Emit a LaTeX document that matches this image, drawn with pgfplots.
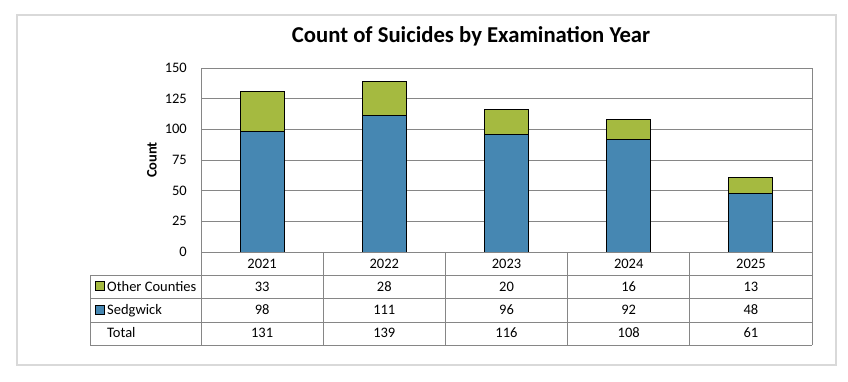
\documentclass[border=0pt]{standalone}
\usepackage{pgfplots}
\pgfplotsset{compat=1.18}
\usepackage{pgfplotstable}
\usepackage{fontspec}
\setmainfont{Carlito}
\definecolor{cgreen}{RGB}{165,186,64}
\definecolor{cblue}{RGB}{70,135,178}
\definecolor{gridc}{RGB}{134,134,134}
\definecolor{framec}{RGB}{217,217,217}
\definecolor{tabc}{RGB}{134,134,134}
\pgfplotstableread{
year sedgwick other total
2021 98 33 131
2022 111 28 139
2023 96 20 116
2024 92 16 108
2025 48 13 61
}\data
\begin{document}
\begin{tikzpicture}[x=1pt,y=1pt]
\path (0,0) rectangle (848,381);
\draw[framec, line width=1.2pt] (17,16) rectangle (836,366);
\node[font=\fontsize{22.7}{26}\selectfont\bfseries, anchor=base, inner sep=0pt] at (471,338) {Count of Suicides by Examination Year};
\node[font=\fontsize{14.5}{16}\selectfont\bfseries, rotate=90, inner sep=0pt] at (152,221) {Count};
\begin{axis}[at={(201pt,129pt)}, anchor=south west, scale only axis,
  width=611pt, height=184pt, xmin=-0.5, xmax=4.5, ymin=0, ymax=150,
  ytick={0,25,...,150}, xtick=\empty, ybar stacked, bar width=44pt,
  axis line style={gridc, line width=1pt}, ymajorgrids,
  grid style={gridc, line width=1pt}, major tick length=0pt,
  yticklabel style={font=\fontsize{14.5}{16}\selectfont, anchor=east, inner sep=0pt, xshift=-14pt},
  /pgf/number format/assume math mode=true, clip=false]
\addplot[fill=cblue, draw=black, line width=1pt] table[x expr=\coordindex, y=sedgwick]{\data};
\addplot[fill=cgreen, draw=black, line width=1pt] table[x expr=\coordindex, y=other]{\data};
\end{axis}
% data table
\begin{scope}[tabc, line width=1pt]
\draw (201,129) -- (812,129);
\draw (90,106) -- (812,106);
\draw (90,83) -- (812,83);
\draw (90,59) -- (812,59);
\draw (90,36) -- (812,36);
\draw (90,106) -- (90,36);
\foreach \xx in {201,323.2,445.4,567.6,689.8,812} {\draw (\xx,129) -- (\xx,36);}
\end{scope}
\begin{scope}[font=\fontsize{14.5}{16}\selectfont]
\draw[fill=cgreen, line width=0.8pt] (95,91) rectangle (104,99.5);
\draw[fill=cblue, line width=0.8pt] (95,67) rectangle (104,75.5);
\node[anchor=base west, inner sep=0pt] at (107,90) {Other Counties};
\node[anchor=base west, inner sep=0pt] at (107,66.3) {Sedgwick};
\node[anchor=base west, inner sep=0pt] at (107,43.3) {Total};
\foreach \i in {0,...,4} {
  \pgfmathsetmacro\cx{262.1+122.2*\i}
  \pgfplotstablegetelem{\i}{year}\of\data
  \node[anchor=base, inner sep=0pt] at (\cx,113) {\pgfplotsretval};
  \pgfplotstablegetelem{\i}{other}\of\data
  \node[anchor=base, inner sep=0pt] at (\cx,90) {\pgfplotsretval};
  \pgfplotstablegetelem{\i}{sedgwick}\of\data
  \node[anchor=base, inner sep=0pt] at (\cx,66.3) {\pgfplotsretval};
  \pgfplotstablegetelem{\i}{total}\of\data
  \node[anchor=base, inner sep=0pt] at (\cx,43.3) {\pgfplotsretval};
}
\end{scope}
\end{tikzpicture}
\end{document}
